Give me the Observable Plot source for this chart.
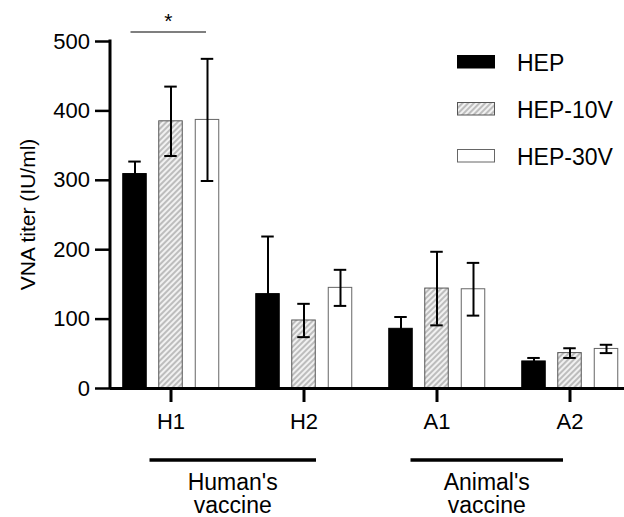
<!DOCTYPE html>
<html><head><meta charset="utf-8">
<script src="https://cdn.jsdelivr.net/npm/d3@7"></script>
<script src="https://cdn.jsdelivr.net/npm/@observablehq/plot@0.6"></script>
<style>
body{margin:0;background:#fff}
#chart{width:624px;height:517px;position:relative}
</style>
</head><body><div id="chart"></div>
<script>
// ---- data ----
const groups = ["H1", "H2", "A1", "A2"];
const series = ["HEP", "HEP-10V", "HEP-30V"];
const meanHEP = [309, 136, 86, 39];
const sdHEP   = [18, 83, 17, 5];
const mean10V = [385, 98, 144, 51];
const sd10V   = [50, 24, 53, 7];
const mean30V = [387, 145, 143, 57];
const sd30V   = [88, 26, 38, 6];
const yTicks = [0, 100, 200, 300, 400, 500];
const yTitle = "VNA titer (IU/ml)";
const vaccineLabels = [["Human's", "vaccine"], ["Animal's", "vaccine"]];
const vaccineGroups = [["H1", "H2"], ["A1", "A2"]];
const significance = [{group: "H1", from: "HEP", to: "HEP-30V", label: "*"}];

// ---- table ----
const means = [meanHEP, mean10V, mean30V];
const sds = [sdHEP, sd10V, sd30V];
const rows = [];
series.forEach((s, si) => groups.forEach((g, gi) => rows.push({series: s, group: g, value: means[si][gi], sd: sds[si][gi]})));

// ---- styling / layout ----
const W = 624, H = 517;
const offsets = [-36, 0, 36.5];
const fills = ["#000", "url(#hatch)", "#fff"];
const strokes = ["#000", "#555", "#666"];
const barW = 24, capW = 13;
const step = 133.5, firstCenter = 170;
const xRange = [firstCenter - step / 2, firstCenter - step / 2 + step * groups.length];
const bandInset = (step - barW) / 2, capInset = (step - capW) / 2;
const font = "Arial, 'Liberation Sans', Helvetica, sans-serif";

const marks = [];
series.forEach((s, i) => {
  const data = rows.filter(d => d.series === s);
  marks.push(Plot.barY(data, {x: "group", y: "value", dx: offsets[i], insetLeft: bandInset, insetRight: bandInset,
    fill: fills[i], stroke: strokes[i], strokeWidth: 1}));
  marks.push(Plot.ruleX(data, {x: "group", y1: d => d.value - d.sd, y2: d => d.value + d.sd, dx: offsets[i], stroke: "#000", strokeWidth: 2}));
  marks.push(Plot.tickY(data, {x: "group", y: d => d.value + d.sd, dx: offsets[i], insetLeft: capInset, insetRight: capInset, stroke: "#000", strokeWidth: 2}));
  marks.push(Plot.tickY(data, {x: "group", y: d => d.value - d.sd, dx: offsets[i], insetLeft: capInset, insetRight: capInset, stroke: "#000", strokeWidth: 2}));
});

const plot = Plot.plot({
  width: W, height: H,
  marginLeft: 110, marginRight: 0, marginTop: 41, marginBottom: 129,
  style: {fontFamily: font, fontSize: "22px", color: "#000", background: "#fff", overflow: "visible"},
  x: {type: "band", domain: groups, range: xRange, padding: 0},
  y: {domain: [0, 500]},
  marks: [
    ...marks,
    Plot.ruleY([0], {stroke: "#000", strokeWidth: 3}),
    Plot.axisY({ticks: yTicks, tickSize: 15, tickPadding: 5.5, strokeWidth: 2.5, label: null, fontSize: 22}),
    Plot.axisX({tickSize: 14, tickPadding: 11, strokeWidth: 3, label: null, fontSize: 22})
  ]
});
document.getElementById("chart").appendChild(plot);

const svg = d3.select(plot);
const xs = plot.scale("x"), ys = plot.scale("y");
const center = g => xs.apply(g) + xs.bandwidth / 2;

// hatch pattern
const defs = svg.insert("defs", ":first-child");
const pat = defs.append("pattern").attr("id", "hatch").attr("patternUnits", "userSpaceOnUse")
  .attr("width", 4).attr("height", 4).attr("patternTransform", "rotate(45)");
pat.append("rect").attr("width", 4).attr("height", 4).attr("fill", "#bdbdbd");
pat.append("line").attr("x1", 2).attr("x2", 2).attr("y1", 0).attr("y2", 4).attr("stroke", "#fff").attr("stroke-width", 1.6);

// y axis line
svg.append("line").attr("x1", 110).attr("x2", 110).attr("y1", ys.apply(500) - 1.5).attr("y2", ys.apply(0))
  .attr("stroke", "#000").attr("stroke-width", 3);

// y title
svg.append("text").attr("transform", `translate(35,${(ys.apply(0) + ys.apply(500)) / 2}) rotate(-90)`)
  .attr("text-anchor", "middle").attr("font-family", font).attr("font-size", 21).text(yTitle);

// significance
significance.forEach(sg => {
  const c = center(sg.group);
  const x1 = c + offsets[series.indexOf(sg.from)] - 4, x2 = c + offsets[series.indexOf(sg.to)] - 1;
  const yv = ys.apply(513);
  svg.append("line").attr("x1", x1).attr("x2", x2).attr("y1", yv).attr("y2", yv).attr("stroke", "#000").attr("stroke-width", 1.2);
  svg.append("text").attr("x", (x1 + x2) / 2).attr("y", yv - 4).attr("text-anchor", "middle")
    .attr("font-family", font).attr("font-size", 21).text(sg.label);
});

// legend
series.forEach((s, i) => {
  const y0 = 55 + i * 47;
  svg.append("rect").attr("x", 457.5).attr("y", y0 + 0.5).attr("width", 37).attr("height", 12.5)
    .attr("fill", fills[i]).attr("stroke", strokes[i]).attr("stroke-width", 1);
  svg.append("text").attr("x", 517).attr("y", y0 + 15.5).attr("text-anchor", "start")
    .attr("font-family", font).attr("font-size", 23).text(s);
});

// vaccine brackets
const pads = [[-21, 12.5], [-26, -6.5]];
vaccineGroups.forEach(([a, b], i) => {
  const x1 = center(a) + pads[i][0], x2 = center(b) + pads[i][1];
  svg.append("line").attr("x1", x1).attr("x2", x2).attr("y1", 460).attr("y2", 460).attr("stroke", "#000").attr("stroke-width", 3.5);
  vaccineLabels[i].forEach((t, j) => {
    svg.append("text").attr("x", (x1 + x2) / 2).attr("y", 489.5 + j * 23.5).attr("text-anchor", "middle")
      .attr("font-family", font).attr("font-size", 23).text(t);
  });
});
</script>
</body></html>
